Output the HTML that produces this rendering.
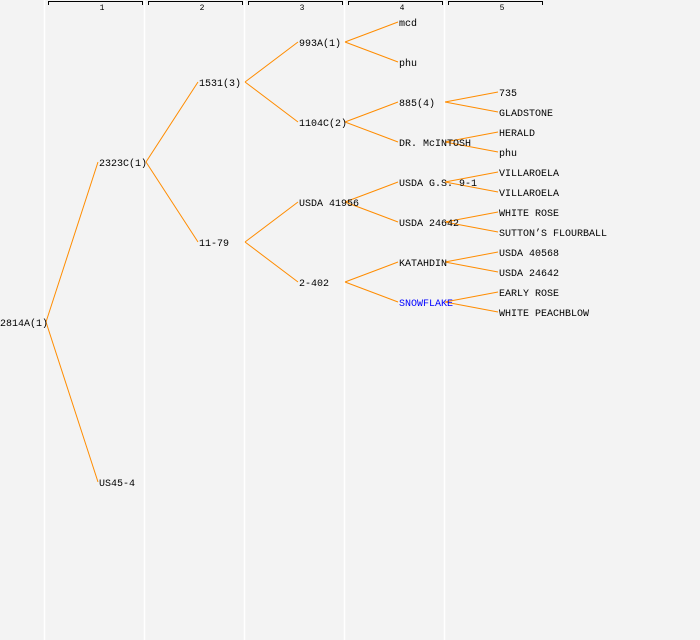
<!DOCTYPE html>
<html><head><meta charset="utf-8"><style>
html,body{margin:0;padding:0;background:#f3f3f3;}
svg{display:block;}
text{font-family:"Liberation Mono","DejaVu Sans Mono",monospace;font-size:10px;fill:#000;}
</style></head><body>
<svg width="700" height="640" viewBox="0 0 700 640" xmlns="http://www.w3.org/2000/svg">
<rect width="700" height="640" fill="#f3f3f3"/>
<g stroke="#ffffff" stroke-width="1.5">
<line x1="44.5" y1="0" x2="44.5" y2="640"/><line x1="144.5" y1="0" x2="144.5" y2="640"/>
<line x1="244.5" y1="0" x2="244.5" y2="640"/><line x1="344.5" y1="0" x2="344.5" y2="640"/>
<line x1="444.5" y1="0" x2="444.5" y2="640"/>
</g>
<g stroke="#000" stroke-width="1" fill="none">
<path d="M48.5 5V1.5H142.5V5"/><path d="M148.5 5V1.5H242.5V5"/><path d="M248.5 5V1.5H342.5V5"/>
<path d="M348.5 5V1.5H442.5V5"/><path d="M448.5 5V1.5H542.5V5"/>
</g>
<g style="font-size:8px" text-anchor="middle">
<text x="102" y="10" style="font-size:8px">1</text><text x="202" y="10" style="font-size:8px">2</text>
<text x="302" y="10" style="font-size:8px">3</text><text x="402" y="10" style="font-size:8px">4</text>
<text x="502" y="10" style="font-size:8px">5</text>
</g>
<g stroke="#ff8c00" stroke-width="1" fill="none">
<path d="M46 322L98 162M46 322L98 482"/>
<path d="M146 162L198 82M146 162L198 242"/>
<path d="M245 82L298 42M245 82L298 122M245 242L298 202M245 242L298 282"/>
<path d="M345 42L398 22M345 42L398 62M345 122L398 102M345 122L398 142M345 202L398 182M345 202L398 222M345 282L398 262M345 282L398 302"/>
<path d="M445 102L498 92M445 102L498 112M445 142L498 132M445 142L498 152M445 182L498 172M445 182L498 192M445 222L498 212M445 222L498 232M445 262L498 252M445 262L498 272M445 302L498 292M445 302L498 312"/>
</g>
<g>
<text x="0" y="326">2814A(1)</text>
<text x="99" y="166">2323C(1)</text><text x="99" y="486">US45-4</text>
<text x="199" y="86">1531(3)</text><text x="199" y="246">11-79</text>
<text x="299" y="46">993A(1)</text><text x="299" y="126">1104C(2)</text><text x="299" y="206">USDA 41956</text><text x="299" y="286">2-402</text>
<text x="399" y="26">mcd</text><text x="399" y="66">phu</text><text x="399" y="106">885(4)</text><text x="399" y="146">DR. McINTOSH</text>
<text x="399" y="186">USDA G.S. 9-1</text><text x="399" y="226">USDA 24642</text><text x="399" y="266">KATAHDIN</text>
<text x="399" y="306" style="fill:#0000ff">SNOWFLAKE</text>
<text x="499" y="96">735</text><text x="499" y="116">GLADSTONE</text><text x="499" y="136">HERALD</text><text x="499" y="156">phu</text>
<text x="499" y="176">VILLAROELA</text><text x="499" y="196">VILLAROELA</text><text x="499" y="216">WHITE ROSE</text>
<text x="499" y="236">SUTTON’S FLOURBALL</text><text x="499" y="256">USDA 40568</text><text x="499" y="276">USDA 24642</text>
<text x="499" y="296">EARLY ROSE</text><text x="499" y="316">WHITE PEACHBLOW</text>
</g>
</svg>
</body></html>
